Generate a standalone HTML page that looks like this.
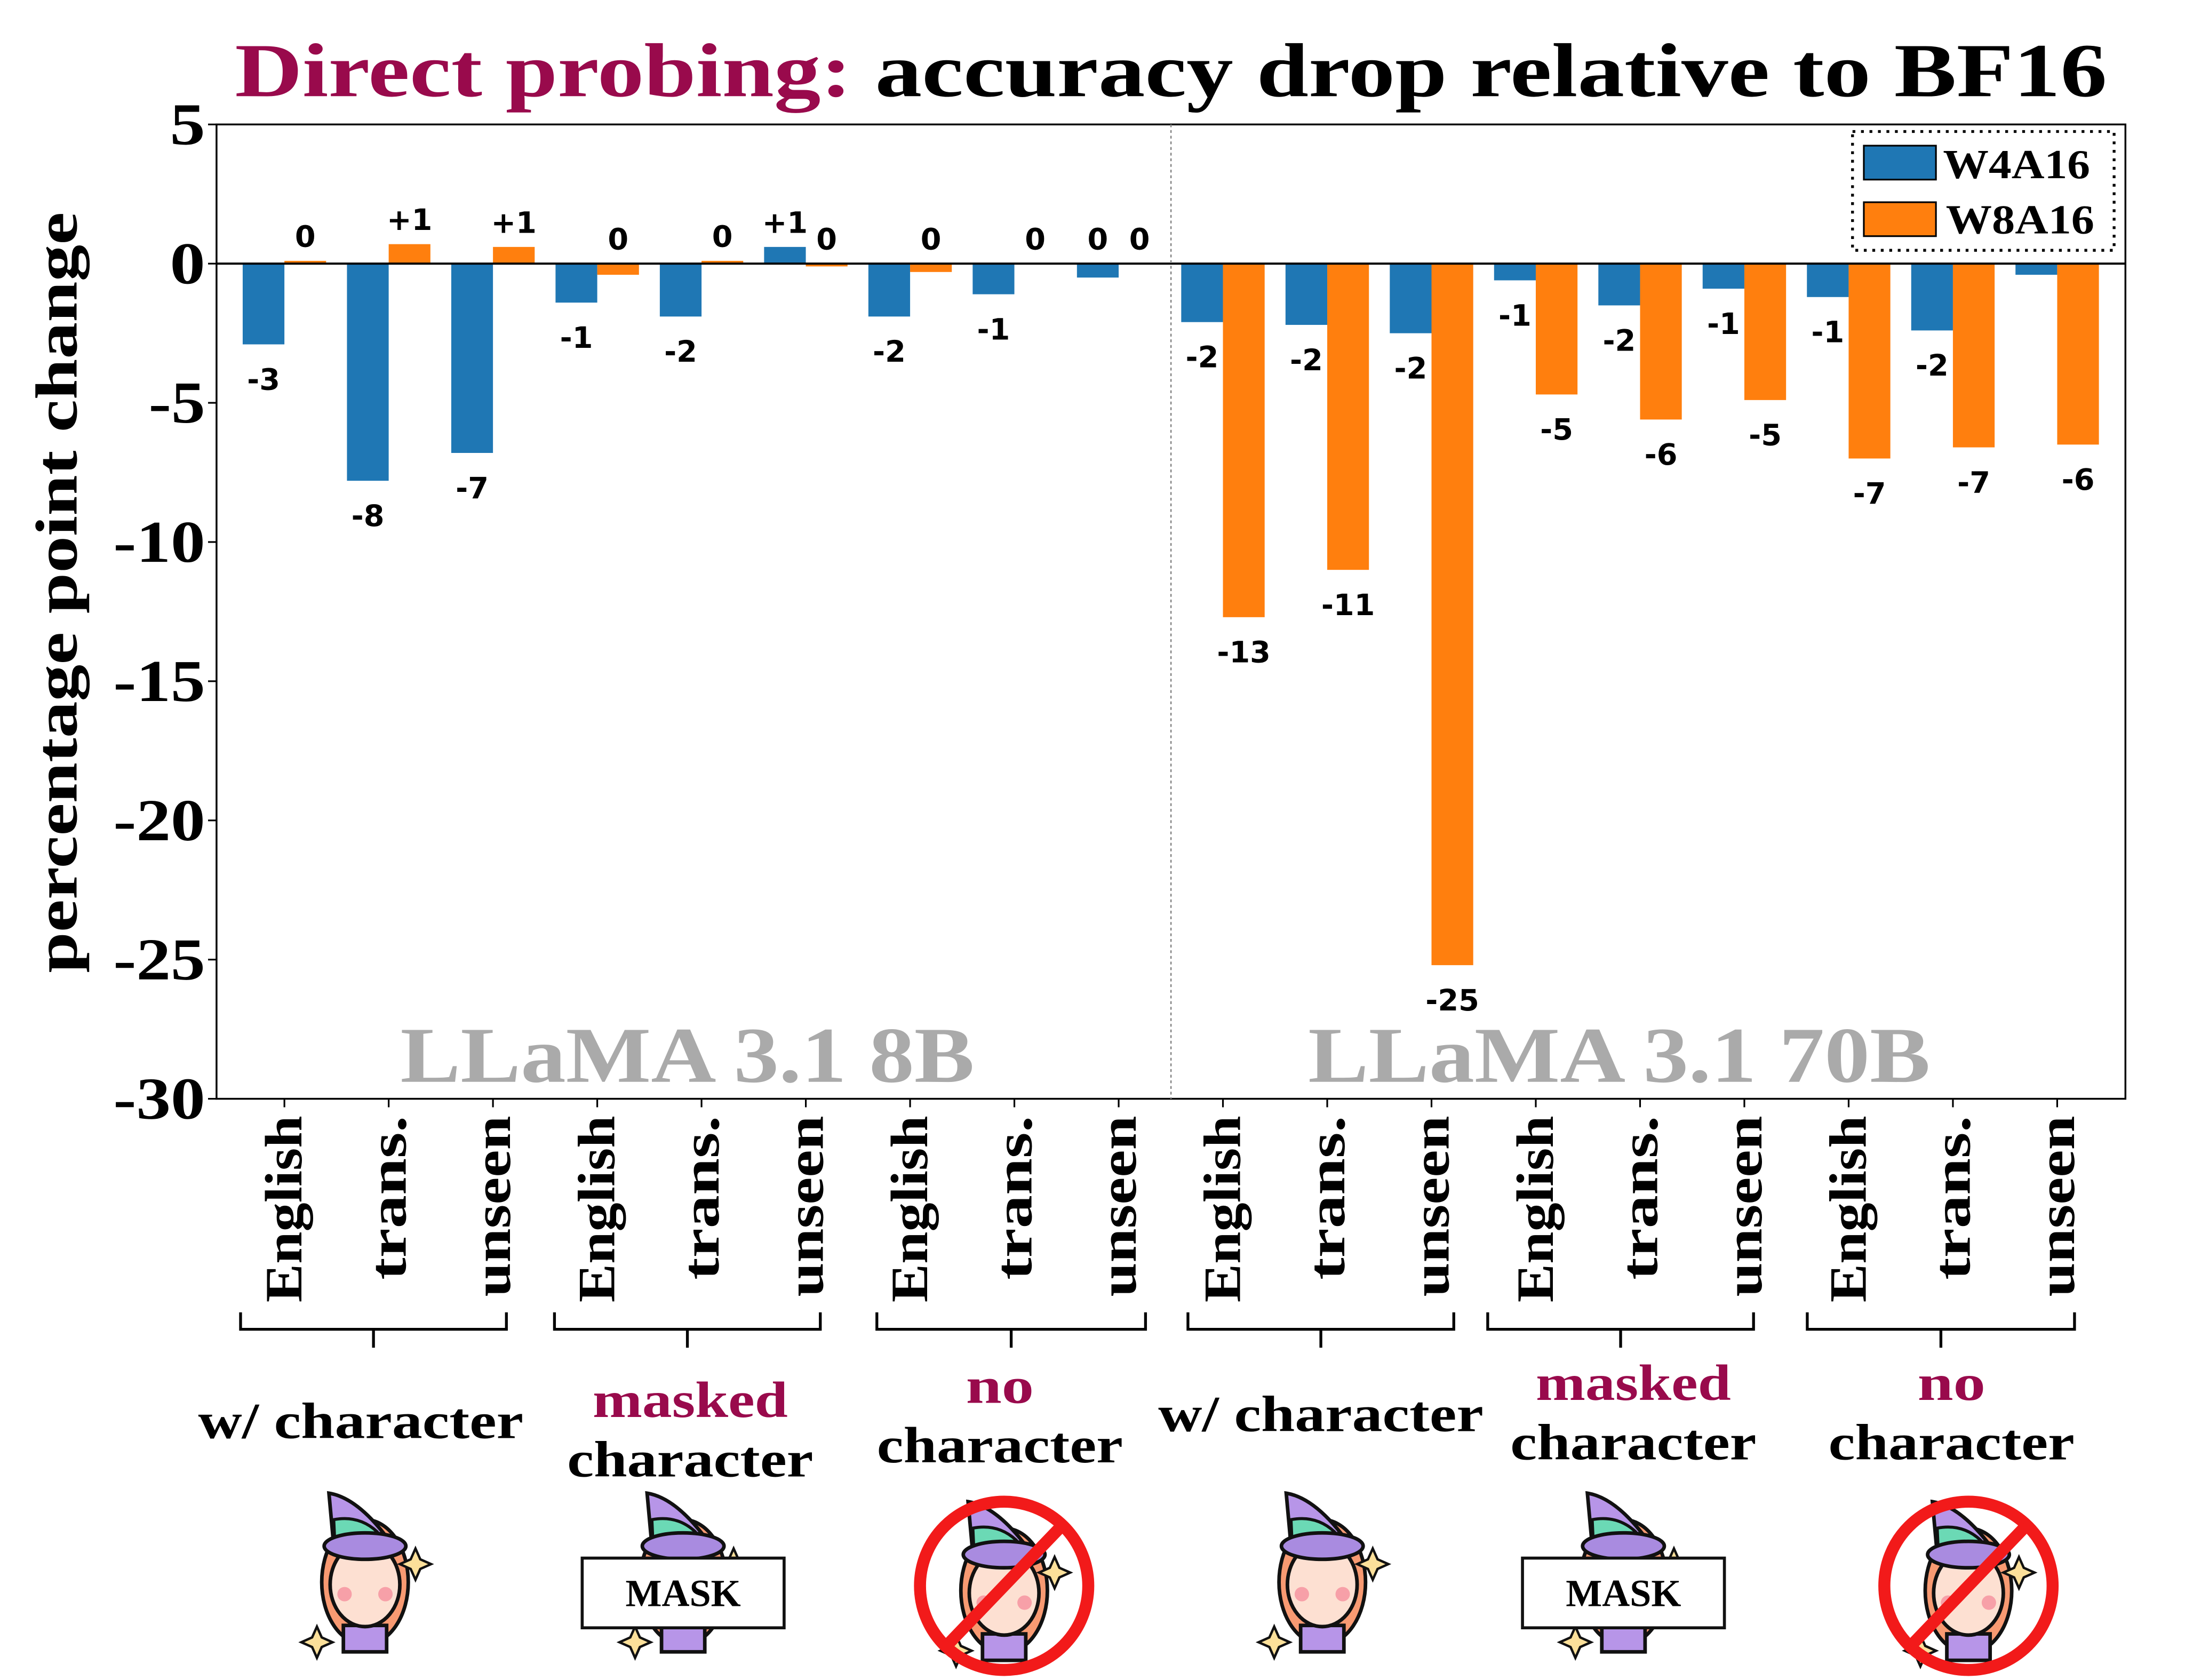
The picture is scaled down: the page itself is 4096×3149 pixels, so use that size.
<!DOCTYPE html>
<html><head><meta charset="utf-8"><style>
html,body{margin:0;padding:0;background:#fff;}
svg{display:block;}
</style></head><body>
<svg id="chart" width="4096" height="3149" viewBox="0 0 1545 1188" xmlns="http://www.w3.org/2000/svg" font-family="'Liberation Serif', serif">
<rect width="1545" height="1188" fill="#fff"/>
<text x="166" y="68" textLength="1324" lengthAdjust="spacingAndGlyphs" font-size="54" font-weight="bold"><tspan fill="#990a4c">Direct probing:</tspan> <tspan fill="#000">accuracy drop relative to BF16</tspan></text>
<text transform="translate(54,419) rotate(-90)" text-anchor="middle" textLength="538" lengthAdjust="spacingAndGlyphs" font-size="42" font-weight="bold">percentage point change</text>
<g id="plot"></g>
</svg>
<script>
const categories = ["English","trans.","unseen","English","trans.","unseen","English","trans.","unseen","English","trans.","unseen","English","trans.","unseen","English","trans.","unseen"];
const w4a16 = [-2.9,-7.8,-6.8,-1.4,-1.9,0.6,-1.9,-1.1,-0.5,-2.1,-2.2,-2.5,-0.6,-1.5,-0.9,-1.2,-2.4,-0.4];
const w8a16 = [0.1,0.7,0.6,-0.4,0.1,-0.1,-0.3,0.0,0.0,-12.7,-11.0,-25.2,-4.7,-5.6,-4.9,-7.0,-6.6,-6.5];
const w4Labels = ["-3","-8","-7","-1","-2","+1","-2","-1","0","-2","-2","-2","-1","-2","-1","-1","-2",""];
const w8Labels = ["0","+1","+1","0","0","0","0","0","0","-13","-11","-25","-5","-6","-5","-7","-7","-6"];
const yTicks = [5,0,-5,-10,-15,-20,-25,-30];
const groupNames = [["w/ character"],["masked","character"],["no","character"],["w/ character"],["masked","character"],["no","character"]];

const NS="http://www.w3.org/2000/svg";
const g=document.getElementById('plot');
const L=153,R=1503,T=88,B=777,yMax=5,yMin=-30;
const y=v=>T+(yMax-v)*(B-T)/(yMax-yMin);
const x0=201,step=73.75,bw=29.5;
const xc=i=>x0+i*step;
function el(tag,attrs,parent){const e=document.createElementNS(NS,tag);for(const k in attrs)e.setAttribute(k,attrs[k]);(parent||g).appendChild(e);return e;}
const wordLen={"English":132,"trans.":116,"unseen":128,"w/ character":230,"masked":138,"character":174,"no":48};

for(let i=0;i<categories.length;i++){
  const vals=[w4a16[i],w8a16[i]],cols=["#1f77b4","#ff7f0e"],labs=[w4Labels[i],w8Labels[i]];
  for(let s=0;s<2;s++){
    const v=vals[s];const bx=xc(i)-bw+s*bw;
    const b=el('rect',{x:bx,y:Math.min(y(v),y(0)),width:bw,height:Math.abs(y(v)-y(0)),fill:cols[s]});
    
    
    if(labs[s]!==""){
      const ly = (v>=0||labs[s]==="0")? Math.min(y(v),y(0))-10 : y(v)+32;
      const t=el('text',{x:bx+bw/2,y:ly,'text-anchor':'middle','font-size':21,'font-weight':'bold','font-family':"'DejaVu Sans', sans-serif"});
      t.textContent=labs[s];
      
      
    }
  }
}
const fr=el('rect',{x:L,y:T,width:R-L,height:B-T,fill:'none',stroke:'#000','stroke-width':1.3});


const zl=el('line',{x1:L,x2:R,y1:y(0),y2:y(0),stroke:'#000','stroke-width':1.5});


const dv=el('line',{x1:828,x2:828,y1:T,y2:B,stroke:'#888','stroke-width':1,'stroke-dasharray':'2,2'});


yTicks.forEach(v=>{
  el('line',{x1:L-6,x2:L,y1:y(v),y2:y(v),stroke:'#000','stroke-width':1.2});
  const s=String(v);
  const len=(s.replace('-','').length)*25+(v<0?15:0);
  const t=el('text',{x:L-8-len,y:y(v)+14,'font-size':42,'font-weight':'bold',textLength:len,lengthAdjust:'spacingAndGlyphs'});
  t.textContent=s;
  
  
});
categories.forEach((c,i)=>{
  el('line',{x1:xc(i),x2:xc(i),y1:B,y2:B+6,stroke:'#000','stroke-width':1.2});
  const len=wordLen[c];
  const t=el('text',{transform:`translate(${xc(i)+12},${B+12+len}) rotate(-90)`,'font-size':37,'font-weight':'bold',textLength:len,lengthAdjust:'spacingAndGlyphs'});
  t.textContent=c;
  
  
});
[[283,"LLaMA 3.1 8B",406],[925,"LLaMA 3.1 70B",440]].forEach(m=>{
  const t=el('text',{x:m[0],y:765,'font-size':56,'font-weight':'bold',fill:'#aaaaaa',textLength:m[2],lengthAdjust:'spacingAndGlyphs'});
  t.textContent=m[1];
  
  
});
const lg=el('g',{});


el('rect',{x:1310,y:93,width:185,height:84,fill:'#fff',stroke:'#000','stroke-width':2,'stroke-dasharray':'2,4'},lg);
el('rect',{x:1318,y:103,width:51,height:24,fill:'#1f77b4',stroke:'#000','stroke-width':1.2},lg);
el('rect',{x:1318,y:143,width:51,height:24,fill:'#ff7f0e',stroke:'#000','stroke-width':1.2},lg);
const t1=el('text',{x:1374,y:126,'font-size':29,'font-weight':'bold',textLength:104,lengthAdjust:'spacingAndGlyphs'},lg);t1.textContent='W4A16';
const t2=el('text',{x:1376,y:165,'font-size':29,'font-weight':'bold',textLength:105,lengthAdjust:'spacingAndGlyphs'},lg);t2.textContent='W8A16';
const spans=[[170,358],[392,580],[620,810],[840,1028],[1052,1240],[1278,1467]];
const gl=[[255,[1005]],[488,[990,1032]],[707,[980,1022]],[934,[1000]],[1155,[978,1020]],[1380,[978,1020]]];
spans.forEach((s,k)=>{
  const m=(s[0]+s[1])/2;
  const p=el('path',{d:`M${s[0]},928 V940 H${s[1]} V928 M${m},940 V953`,fill:'none',stroke:'#000','stroke-width':2});
  
  
  groupNames[k].forEach((n,j)=>{
    const len=wordLen[n];
    const t=el('text',{x:gl[k][0]-len/2,y:gl[k][1][j]+12,'font-size':36,'font-weight':'bold',fill:(groupNames[k].length===2&&j===0)?'#990a4c':'#000',textLength:len,lengthAdjust:'spacingAndGlyphs'});
    t.textContent=n;
    
    
  });
});
function witch(cx,cy,kind){
  const w=el('g',{transform:`translate(${cx},${cy}) scale(0.85)`});
  
  
  el('ellipse',{cx:0,cy:8,rx:36,ry:52,fill:'#f89a72',stroke:'#111','stroke-width':3},w);
  el('rect',{x:-18,y:44,width:36,height:22,fill:'#b795e8',stroke:'#111','stroke-width':3},w);
  el('ellipse',{cx:0,cy:10,rx:29,ry:35,fill:'#fde0d2',stroke:'#111','stroke-width':3},w);
  el('circle',{cx:-17,cy:18,r:6,fill:'#f7a0a8'},w);
  el('circle',{cx:17,cy:18,r:6,fill:'#f7a0a8'},w);
  el('path',{d:'M-26,-22 L-30,-66 Q-5,-62 22,-24 Z',fill:'#b795e8',stroke:'#111','stroke-width':3},w);
  el('path',{d:'M-26,-44 Q-5,-48 10,-34 L18,-24 L-25,-22 Z',fill:'#6bd9b5',stroke:'#111','stroke-width':2.5},w);
  el('ellipse',{cx:0,cy:-22,rx:34,ry:11,fill:'#a98be0',stroke:'#111','stroke-width':3},w);
  el('path',{d:'M42,-20 l4,9 l9,4 l-9,4 l-4,9 l-4,-9 l-9,-4 l9,-4 z',fill:'#fce09a',stroke:'#111','stroke-width':2},w);
  el('path',{d:'M-40,45 l4,9 l9,4 l-9,4 l-4,9 l-4,-9 l-9,-4 l9,-4 z',fill:'#fce09a',stroke:'#111','stroke-width':2},w);
  if(kind==='masked'){
    el('rect',{x:-84,y:-12,width:168,height:58,fill:'#fff',stroke:'#111','stroke-width':2.5},w);
    const t=el('text',{x:0,y:28,'text-anchor':'middle','font-size':32,'font-weight':'bold'},w);t.textContent='MASK';
  }
  if(kind==='no-character'){
    el('circle',{cx:0,cy:4,r:70,fill:'none',stroke:'#f21a1a','stroke-width':10},w);
    el('line',{x1:48,y1:-46,x2:-48,y2:54,stroke:'#f21a1a','stroke-width':10},w);
  }
}
witch(258,1112,'with-character');witch(483,1112,'masked');witch(710,1118,'no-character');
witch(935,1112,'with-character');witch(1148,1112,'masked');witch(1392,1118,'no-character');
</script>
</body></html>
